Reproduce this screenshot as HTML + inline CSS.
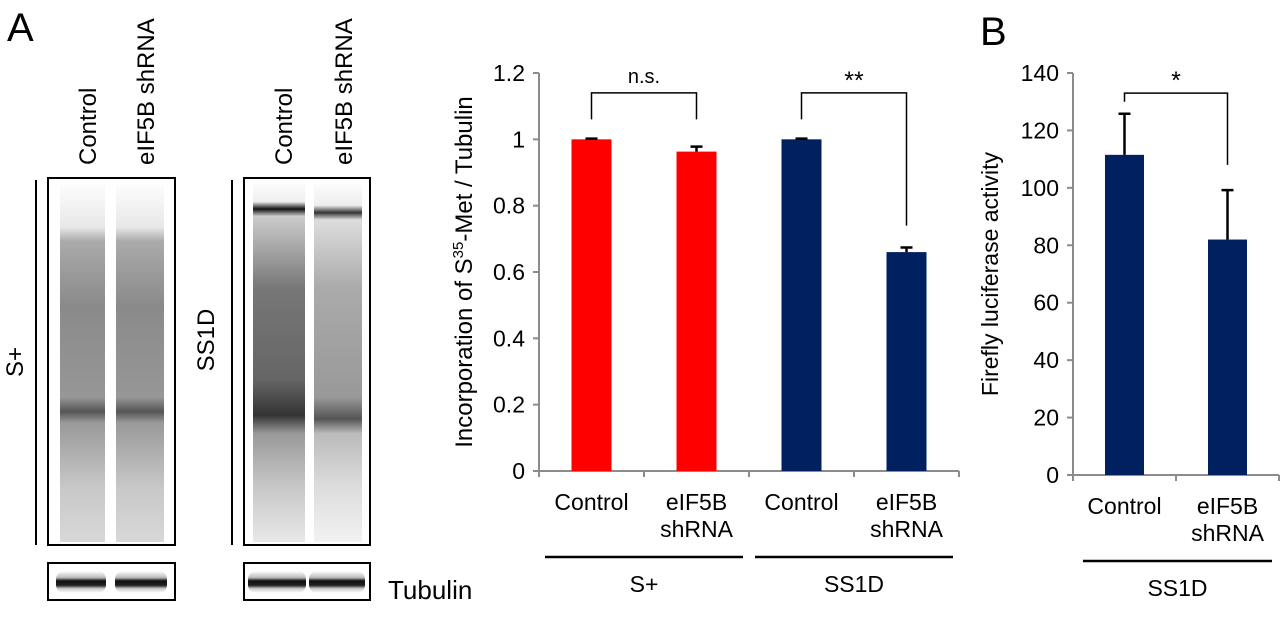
<!DOCTYPE html>
<html><head><meta charset="utf-8"><style>
html,body{margin:0;padding:0;background:#fff;}
svg{display:block;font-family:"Liberation Sans",Arial,sans-serif;}
</style></head><body>
<svg width="1280" height="619" viewBox="0 0 1280 619">
<defs>
<linearGradient id="laneA" x1="0" y1="0" x2="0" y2="1">
<stop offset="0" stop-color="#fff"/><stop offset="0.13" stop-color="#e8e8e8"/><stop offset="0.17" stop-color="#aaa"/>
<stop offset="0.35" stop-color="#8a8a8a"/><stop offset="0.6" stop-color="#979797"/><stop offset="0.64" stop-color="#555"/>
<stop offset="0.67" stop-color="#999"/><stop offset="0.85" stop-color="#c8c8c8"/><stop offset="1" stop-color="#d8d8d8"/>
</linearGradient>
<linearGradient id="laneB1" x1="0" y1="0" x2="0" y2="1">
<stop offset="0" stop-color="#fff"/><stop offset="0.06" stop-color="#eee"/><stop offset="0.08" stop-color="#111"/><stop offset="0.1" stop-color="#ccc"/>
<stop offset="0.3" stop-color="#777"/><stop offset="0.55" stop-color="#666"/><stop offset="0.65" stop-color="#333"/>
<stop offset="0.7" stop-color="#999"/><stop offset="0.85" stop-color="#c8c8c8"/><stop offset="1" stop-color="#e8e8e8"/>
</linearGradient>
<linearGradient id="laneB2" x1="0" y1="0" x2="0" y2="1">
<stop offset="0" stop-color="#fff"/><stop offset="0.07" stop-color="#eee"/><stop offset="0.09" stop-color="#333"/><stop offset="0.11" stop-color="#ddd"/>
<stop offset="0.3" stop-color="#aaa"/><stop offset="0.6" stop-color="#999"/><stop offset="0.66" stop-color="#555"/>
<stop offset="0.7" stop-color="#bbb"/><stop offset="0.85" stop-color="#ddd"/><stop offset="1" stop-color="#f2f2f2"/>
</linearGradient>
<linearGradient id="tub" x1="0" y1="0" x2="0" y2="1">
<stop offset="0" stop-color="#fff"/><stop offset="0.3" stop-color="#bbb"/><stop offset="0.45" stop-color="#111"/><stop offset="0.65" stop-color="#222"/><stop offset="0.8" stop-color="#ccc"/><stop offset="1" stop-color="#fff"/>
</linearGradient>
</defs>

<text x="7" y="41" font-size="40">A</text>
<g font-size="24">
<text transform="translate(96,165) rotate(-90)">Control</text>
<text transform="translate(154,165) rotate(-90)">eIF5B shRNA</text>
<text transform="translate(292,165) rotate(-90)">Control</text>
<text transform="translate(352,165) rotate(-90)">eIF5B shRNA</text>
</g>
<line x1="36" y1="180" x2="36" y2="545" stroke="#000" stroke-width="2"/>
<text transform="translate(23,362) rotate(-90)" font-size="24" text-anchor="middle">S+</text>
<g>
<rect x="48" y="178" width="127" height="367" fill="#fff" stroke="#000" stroke-width="2"/>
<rect x="60" y="180" width="45" height="362" fill="url(#laneA)"/>
<rect x="116" y="180" width="48" height="362" fill="url(#laneA)"/>
</g>
<line x1="232" y1="180" x2="232" y2="545" stroke="#000" stroke-width="2"/>
<text transform="translate(214,340) rotate(-90)" font-size="24" text-anchor="middle">SS1D</text>
<g>
<rect x="244" y="178" width="126" height="367" fill="#fff" stroke="#000" stroke-width="2"/>
<rect x="253" y="180" width="52" height="362" fill="url(#laneB1)"/>
<rect x="314" y="180" width="48" height="362" fill="url(#laneB2)"/>
</g>
<g>
<rect x="48" y="563" width="127" height="37" fill="#fff" stroke="#000" stroke-width="2"/>
<rect x="56" y="571" width="50" height="22" rx="8" fill="url(#tub)"/>
<rect x="115" y="571" width="52" height="22" rx="8" fill="url(#tub)"/>
</g>
<g>
<rect x="244" y="563" width="126" height="37" fill="#fff" stroke="#000" stroke-width="2"/>
<rect x="248" y="571" width="58" height="22" rx="8" fill="url(#tub)"/>
<rect x="309" y="571" width="56" height="22" rx="8" fill="url(#tub)"/>
</g>
<text x="388" y="599" font-size="26">Tubulin</text>

<g id="chart1"></g>
<g id="chart2"></g>
<text x="980" y="45" font-size="40">B</text>
</svg>
<script>
const c1Cats = [["Control"],["eIF5B","shRNA"],["Control"],["eIF5B","shRNA"]];
const c1Vals = [1.0, 0.963, 1.0, 0.66];
const c1Errs = [0.002, 0.015, 0.002, 0.014];
const c1Colors = ["#ff0000","#ff0000","#002060","#002060"];
const c1Ticks = [0,0.2,0.4,0.6,0.8,1,1.2];
const c1Groups = ["S+","SS1D"];
const c2Cats = [["Control"],["eIF5B","shRNA"]];
const c2Vals = [111.5, 82];
const c2Errs = [14.3, 17.2];
const c2Ticks = [0,20,40,60,80,100,120,140];
const c2Groups = ["SS1D"];

const NS="http://www.w3.org/2000/svg";
function mk(parent, tag, attrs, text){
  const e=document.createElementNS(NS,tag);
  for(const k in attrs) e.setAttribute(k,attrs[k]);
  if(text!==undefined) e.textContent=text;
  parent.appendChild(e); return e;
}
function drawChart(g, o){
  const y = v => o.y0 - (v - 0)/(o.max) * (o.y0 - o.yTop);
  const xc = i => o.x0 + o.cw*(i+0.5);
  const grey="#8c8c8c";
  const FS=23;
  let ax=mk(g,'line',{x1:o.x0,y1:o.yTop,x2:o.x0,y2:o.y0,stroke:grey,'stroke-width':2});
   
  o.ticks.forEach(t=>{
    mk(g,'line',{x1:o.x0-6,y1:y(t),x2:o.x0,y2:y(t),stroke:grey,'stroke-width':2});
    let tl=mk(g,'text',{x:o.x0-14,y:y(t)+8,'font-size':FS,'text-anchor':'end'},String(t));
     
  });
  let xa=mk(g,'line',{x1:o.x0-6,y1:o.y0,x2:o.x0+o.cw*o.vals.length,y2:o.y0,stroke:grey,'stroke-width':2});
   
  for(let i=0;i<=o.vals.length;i++) mk(g,'line',{x1:o.x0+o.cw*i,y1:o.y0,x2:o.x0+o.cw*i,y2:o.y0+6,stroke:grey,'stroke-width':2});
  o.vals.forEach((v,i)=>{
    const b=mk(g,'rect',{x:xc(i)-o.bw/2,y:y(v),width:o.bw,height:o.y0-y(v),fill:o.colors[i]});
     
    const e=mk(g,'path',{d:`M${xc(i)} ${y(v)} V${y(v+o.errs[i])} M${xc(i)-6} ${y(v+o.errs[i])} H${xc(i)+6}`,stroke:'#000','stroke-width':2.5,fill:'none'});
     
    o.cats[i].forEach((s,k)=>{
      const t=mk(g,'text',{x:xc(i),y:o.y0+39+k*27,'font-size':FS,'text-anchor':'middle'},s);
       
    });
  });
  o.groups.forEach((gr,j)=>{
    const gx0=o.x0+o.cw*2*j, gx1=gx0+o.cw*2;
    const l=mk(g,'line',{x1:gx0+o.gpad,y1:o.y0+86,x2:gx1-o.gpad2,y2:o.y0+86,stroke:'#000','stroke-width':2.5});
     
    const t=mk(g,'text',{x:(gx0+o.gpad+gx1-o.gpad2)/2,y:o.y0+121,'font-size':FS,'text-anchor':'middle'},gr);
     
  });
  o.sig.forEach(s=>{
    const a=xc(s.i), b=xc(s.i+1);
    const p=mk(g,'path',{d:`M${a} ${y(s.l)} V${y(s.top)} H${b} V${y(s.r)}`,stroke:'#000','stroke-width':1.5,fill:'none'});
     
    const t=mk(g,'text',{x:(a+b)/2,y:y(s.top)-s.dy,'font-size':s.fs,'text-anchor':'middle'},s.txt);
     
  });
  const yt=mk(g,'text',{transform:`translate(${o.titleX},${(o.y0+o.yTop)/2}) rotate(-90)`,'font-size':o.tfs,'text-anchor':'middle'});
   
  yt.innerHTML=o.title;
}
drawChart(document.getElementById('chart1'),{
  x0:539,y0:471,yTop:73,max:1.2,cw:105,bw:40,vals:c1Vals,errs:c1Errs,colors:c1Colors,ticks:c1Ticks,cats:c1Cats,groups:c1Groups,gpad:6,gpad2:6,
  sig:[{i:0,l:1.06,r:1.06,top:1.14,txt:'n.s.',dy:10,fs:20},{i:2,l:1.06,r:0.74,top:1.14,txt:'**',dy:4,fs:25}],
  titleX:472,tfs:24,title:'Incorporation of S<tspan dy="-9" font-size="15">35</tspan><tspan dy="9">-Met / Tubulin</tspan>'
});
drawChart(document.getElementById('chart2'),{
  x0:1073,y0:475,yTop:73,max:140,cw:103,bw:39,vals:c2Vals,errs:c2Errs,colors:["#002060","#002060"],ticks:c2Ticks,cats:c2Cats,groups:c2Groups,gpad:10,gpad2:7,
  sig:[{i:0,l:130,r:108,top:133,txt:'*',dy:4,fs:25}],
  titleX:998,tfs:23,title:'Firefly luciferase activity'
});
</script>
</body></html>
